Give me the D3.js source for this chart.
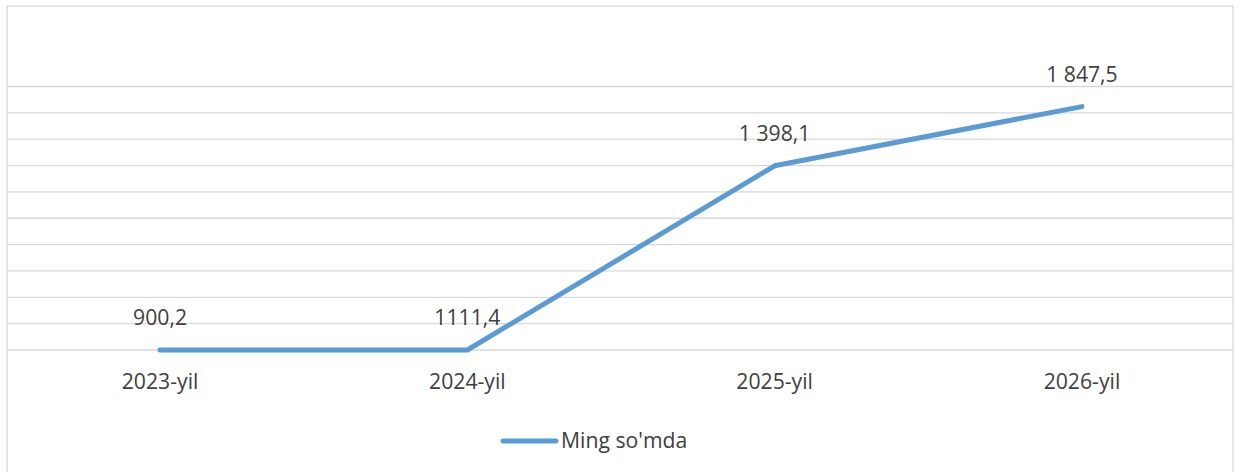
<!DOCTYPE html>
<html><head><meta charset="utf-8">
<script src="https://cdn.jsdelivr.net/npm/d3@7"></script>
<style>html,body{margin:0;padding:0;background:#fff;overflow:hidden}</style>
</head><body>
<svg id="c" width="1235" height="472"></svg>
<script>
// Categories and series
const categories = ["2023-yil", "2024-yil", "2025-yil", "2026-yil"];
// Plotted values as they appear in the picture (first two points sit on the baseline)
const plottedValues = [0, 0, 1398.1, 1847.5];
// Data label texts as shown
const labelTexts = ["900,2", "1111,4", "1 398,1", "1 847,5"];
const seriesName = "Ming so'mda";
const yTicks = [0, 200, 400, 600, 800, 1000, 1200, 1400, 1600, 1800, 2000];

const svg = d3.select("#c");
const font = "'Open Sans', 'Liberation Sans', sans-serif";
const textColor = "#404040";
const fs = 21.2;

// Chart frame
svg.append("rect").attr("x", 7).attr("y", 6).attr("width", 1226).attr("height", 480)
  .attr("fill", "#fff").attr("stroke", "#d9d9d9").attr("stroke-width", 1.3);

const x = d3.scalePoint().domain(categories).range([6.4, 1235.6]).padding(0.5);
const y = d3.scaleLinear().domain([0, 2000]).range([350, 86.5]);

// Gridlines
svg.append("g").selectAll("line").data(yTicks).join("line")
  .attr("x1", 8).attr("x2", 1233)
  .attr("y1", d => y(d)).attr("y2", d => y(d))
  .attr("stroke", "#d9d9d9").attr("stroke-width", 1.3);

// Line
const data = categories.map((c, i) => ({c, v: plottedValues[i], t: labelTexts[i]}));
svg.append("path").datum(data)
  .attr("d", d3.line().x(d => x(d.c)).y(d => y(d.v)))
  .attr("fill", "none").attr("stroke", "#5b9bd5").attr("stroke-width", 5)
  .attr("stroke-linecap", "round").attr("stroke-linejoin", "round");

// Data labels
svg.append("g").selectAll("text").data(data).join("text")
  .attr("x", d => x(d.c)).attr("y", d => y(d.v) - 25)
  .attr("text-anchor", "middle").attr("font-family", font).attr("font-size", fs)
  .attr("fill", textColor).text(d => d.t);

// Category axis labels
svg.append("g").selectAll("text").data(categories).join("text")
  .attr("x", d => x(d)).attr("y", 389)
  .attr("text-anchor", "middle").attr("font-family", font).attr("font-size", fs)
  .attr("fill", textColor).text(d => d);

// Legend
const lg = svg.append("g");
lg.append("line").attr("x1", 503).attr("x2", 556).attr("y1", 441).attr("y2", 441)
  .attr("stroke", "#5b9bd5").attr("stroke-width", 5).attr("stroke-linecap", "round");
lg.append("text").attr("x", 561).attr("y", 448).attr("font-family", font).attr("font-size", fs)
  .attr("fill", textColor).text(seriesName);
</script>
</body></html>
